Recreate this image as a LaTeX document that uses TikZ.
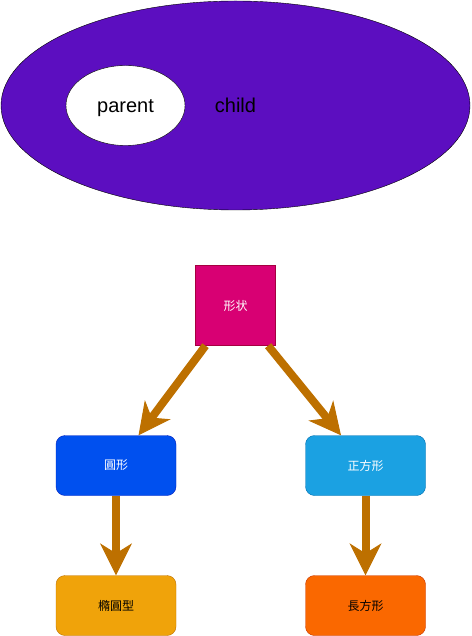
\documentclass[tikz,border=0pt]{standalone}
\usepackage{fontspec}
\setmainfont{Liberation Sans}
\newfontfamily\cjk{Noto Sans CJK JP}
\usetikzlibrary{shapes.geometric}
\usetikzlibrary{arrows.meta}

\definecolor{childfill}{HTML}{5C0EC0}
\definecolor{shapefill}{HTML}{D80073}
\definecolor{shapeline}{HTML}{A50040}
\definecolor{circfill}{HTML}{0050EF}
\definecolor{circline}{HTML}{001DBC}
\definecolor{squarefill}{HTML}{1BA1E2}
\definecolor{squareline}{HTML}{006EAF}
\definecolor{ovalfill}{HTML}{F0A30A}
\definecolor{ovalline}{HTML}{BD7000}
\definecolor{rectfill}{HTML}{FA6800}
\definecolor{rectline}{HTML}{C73500}
\definecolor{linkbrown}{HTML}{BD7000}

\begin{document}
\begin{tikzpicture}[x=1pt,y=-1pt,
    word/.style={font=\fontsize{20}{24}\selectfont, text height=15pt, text depth=1pt},
    box/.style={draw, rounded corners=9pt, minimum width=120pt, minimum height=60pt, inner sep=0pt, font=\cjk\fontsize{12}{14}\selectfont},
    link/.style={draw=linkbrown, line width=8pt, -{Stealth[length=32pt,width=32pt,inset=10pt,line width=1pt]}}]
    \useasboundingbox (0,0) rectangle (471,636);
    % Child
    \node[ellipse, draw, fill=childfill, minimum width=469pt, minimum height=209pt, word] (child) at (235.5,105.5) {child};
    % Parent
    \node[ellipse, draw, fill=white, minimum width=119pt, minimum height=80pt, word] (parent) at (125.5,105.5) {parent};
    % Shape
    \node[box, sharp corners, minimum width=80pt, minimum height=80pt, fill=shapefill, draw=shapeline, text=white] (shape) at (235.5,305.5) {形状};
    % Circle
    \node[box, fill=circfill, draw=circline, text=white] (circ) at (116,465.5) {圓形};
    % Square
    \node[box, fill=squarefill, draw=squareline, text=white] (square) at (365.5,465.5) {正方形};
    % Oval
    \node[box, fill=ovalfill, draw=ovalline] (oval) at (116,605.5) {橢圓型};
    % Rectangle
    \node[box, fill=rectfill, draw=rectline] (rect) at (365.5,605.5) {長方形};
    % Links
    \draw[link] (shape) -- (circ);
    \draw[link] (shape) -- (square);
    \draw[link] (circ) -- (oval);
    \draw[link] (square) -- (rect);
\end{tikzpicture}
\end{document}
